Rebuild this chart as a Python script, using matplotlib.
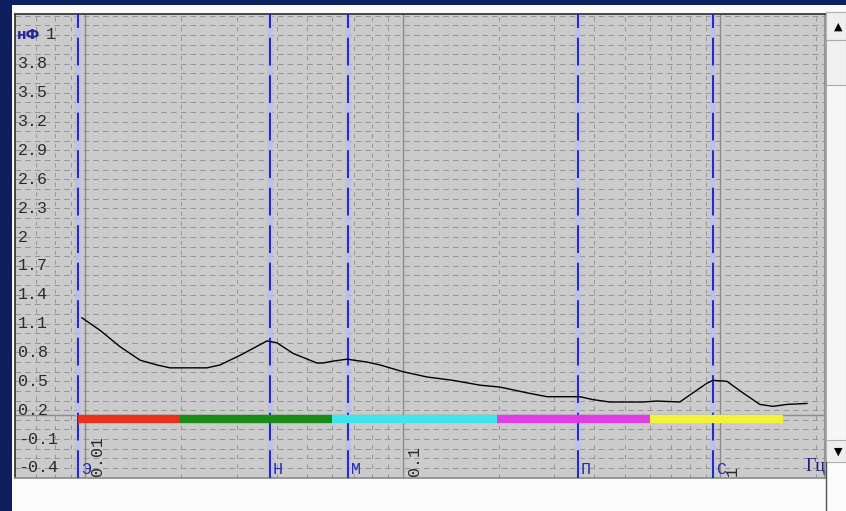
import matplotlib
matplotlib.use('Agg')
import matplotlib.pyplot as plt
import matplotlib.transforms as mtransforms
from matplotlib.patches import Rectangle
import numpy as np

W, H = 846, 511

# curve, nF vs Hz
freq_hz = [0.00975, 0.01112, 0.01285, 0.01486, 0.0168, 0.01845, 0.02415, 0.02654,
           0.03069, 0.03733, 0.04011, 0.0451, 0.05361, 0.05598, 0.06025, 0.06669,
           0.07708, 0.08474, 0.1, 0.1191, 0.1437, 0.1749, 0.2022, 0.246, 0.2844,
           0.3607, 0.3963, 0.4484, 0.57, 0.631, 0.745, 0.819, 0.907, 0.947, 1.048,
           1.177, 1.331, 1.464, 1.62, 1.873]
cap_nf = [1.16, 1.03, 0.86, 0.72, 0.67, 0.64, 0.64, 0.67, 0.77, 0.92, 0.90, 0.79,
          0.69, 0.69, 0.71, 0.73, 0.70, 0.67, 0.60, 0.545, 0.51, 0.46, 0.44, 0.38,
          0.34, 0.34, 0.31, 0.285, 0.285, 0.295, 0.285, 0.38, 0.48, 0.51, 0.50,
          0.38, 0.26, 0.24, 0.26, 0.27]

# colour bands along the bottom
band_edges = [0.0095, 0.0199, 0.0598, 0.198, 0.600, 1.574]
band_colors = ['#e8321e', '#178c17', '#3ee6ee', '#e03ee0', '#f2f23a']
band_level = 0.108

# blue marker lines
marker_freq = [0.0095, 0.0381, 0.0671, 0.3556, 0.947]
marker_labels = ['Э', 'Н', 'М', 'П', 'С']

# top label "4.1" is covered by the unit, only its "1" shows
y_ticks = [4.1, 3.8, 3.5, 3.2, 2.9, 2.6, 2.3, 2.0, 1.7, 1.4, 1.1, 0.8, 0.5, 0.2, -0.1, -0.4]
y_tick_labels = ['1', '3.8', '3.5', '3.2', '2.9', '2.6', '2.3', '2', '1.7', '1.4',
                 '1.1', '0.8', '0.5', '0.2', '-0.1', '-0.4']
x_ticks = [0.01, 0.1, 1]
x_tick_labels = ['0.01', '0.1', '1']

plt.rcParams['lines.scale_dashes'] = False


def fx(px):
    return px / W


def fy(py):
    return 1 - py / H


fig = plt.figure(figsize=(W / 100, H / 100), dpi=100, facecolor='#0d1f5e')

# window + scrollbar (behind the axes)
def box(x0, y0, x1, y1, fc, ec='none'):
    fig.add_artist(Rectangle((fx(x0), fy(y1)), fx(x1 - x0), fy(y0) - fy(y1),
                             transform=fig.transFigure, facecolor=fc, edgecolor=ec,
                             lw=0.8, zorder=-10))

box(12, 5, 846, 511, '#fbfbfb')
box(826, 12, 846, 462, '#f6f6f6', '#b0b0b0')
box(826, 12, 846, 40, '#efefef', '#b0b0b0')
box(826, 40, 846, 85, '#f0f0f0', '#a8a8a8')
box(826, 440, 846, 462, '#efefef', '#b0b0b0')
fig.text(fx(838), fy(27), '▲', fontsize=8, ha='center', va='center', color='black')
fig.text(fx(838), fy(452), '▼', fontsize=8, ha='center', va='center', color='black')
fig.add_artist(plt.Line2D([fx(826), fx(826)], [0, fy(462)], transform=fig.transFigure,
                          color='#505050', lw=1, zorder=-9))

ax = fig.add_axes([fx(15), fy(478), fx(810), fy(14) - fy(478)])
ax.set_facecolor('#cbcbcb')
ax.set_xscale('log')
ax.set_xlim(0.006, 2.135)
ax.set_ylim(-0.505, 4.318)
ax.set_xticks([])
ax.set_yticks([])
ax.minorticks_off()
for side in ['left', 'top']:
    ax.spines[side].set_color('#303030')
    ax.spines[side].set_linewidth(1.2)
for side in ['right', 'bottom']:
    ax.spines[side].set_color('#8a8a8a')
    ax.spines[side].set_linewidth(1.2)

# dashed grid
for v in np.arange(-0.4, 4.31, 0.1):
    ax.axhline(v, color='#959595', lw=0.7, ls=(0, (4, 3)), zorder=1)
for dec in [0.001, 0.01, 0.1, 1]:
    for m in range(2, 10):
        f = dec * m
        if 0.006 <= f <= 2.135:
            ax.axvline(f, color='#959595', lw=0.7, ls=(0, (3, 4)), zorder=1)
for f in x_ticks:
    ax.axvline(f, color='#8c8c8c', lw=1.0, zorder=1)
ax.axhline(0.15, color='#8c8c8c', lw=1.0, zorder=1)

# marker lines
for f in marker_freq:
    ax.axvline(f, color='#b8c0ee', lw=4, alpha=0.8, zorder=2)
    ax.axvline(f, color='#1c1cb0', lw=1.3, ls=(0, (20, 7)), zorder=3)

# colour bands
for i in range(len(band_colors)):
    ax.plot([band_edges[i], band_edges[i + 1]], [band_level, band_level],
            color=band_colors[i], lw=6, solid_capstyle='butt', zorder=4)

ax.plot(freq_hz, cap_nf, color='black', lw=1.0, zorder=5)

# y labels inside the plot
ylab_trans = mtransforms.blended_transform_factory(ax.transAxes, ax.transData)
for v, s in zip(y_ticks, y_tick_labels):
    xo = 3 if s != '1' else 31
    ax.text(xo / 810, v, s, transform=ylab_trans, ha='left', va='center',
            family='Liberation Mono', fontsize=12, color='#2a2a2a', zorder=6)
ax.text(1.5 / 810, 4.1, 'нФ', transform=ylab_trans, ha='left', va='center',
        fontsize=10, fontweight='bold', color='#2626a0', zorder=7)

# x labels (rotated)
xlab_trans = mtransforms.blended_transform_factory(ax.transData, ax.transAxes)
for f, s in zip(x_ticks, x_tick_labels):
    t = mtransforms.offset_copy(xlab_trans, fig=fig, x=12, y=2, units='dots')
    ax.text(f, 0, s, transform=t, rotation=90, ha='center', va='bottom',
            family='Liberation Mono', fontsize=12, color='#2a2a2a', zorder=6)

for f, s in zip(marker_freq, marker_labels):
    t = mtransforms.offset_copy(xlab_trans, fig=fig, x=3, y=1, units='dots')
    ax.text(f, 0, s, transform=t, ha='left', va='bottom',
            family='Liberation Mono', fontsize=12, color='#2a2ab0', zorder=6)

ax.text(1.0, 0, 'Гц', transform=mtransforms.offset_copy(ax.transAxes, fig=fig, x=1, y=3, units='dots'),
        ha='right', va='bottom', family='Liberation Serif', fontsize=13,
        color='#202078', zorder=6, clip_on=False)

fig.savefig('out.png', dpi=100, facecolor=fig.get_facecolor())
